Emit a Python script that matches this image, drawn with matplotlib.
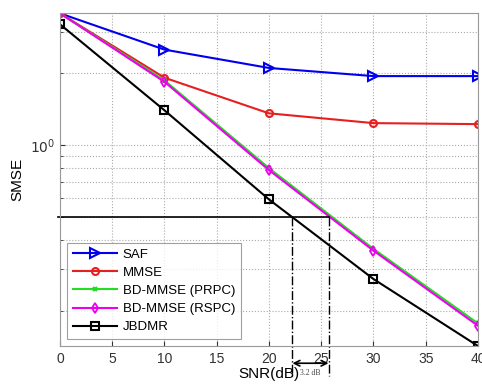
import matplotlib
matplotlib.use("Agg")
import matplotlib.pyplot as plt
import numpy as np

plt.rcParams['font.family'] = ['Liberation Sans', 'DejaVu Sans']

# data
snr = [0, 10, 20, 30, 40]
saf = [3.58, 2.52, 2.11, 1.95, 1.95]
mmse = [3.58, 1.92, 1.36, 1.237, 1.225]
bd_prpc = [3.58, 1.87, 0.80, 0.366, 0.178]
bd_rspc = [3.58, 1.845, 0.785, 0.36, 0.174]
jbdmr = [3.22, 1.40, 0.591, 0.2735, 0.143]

xticks = [0, 5, 10, 15, 20, 25, 30, 35, 40]
ref_level = 0.5
snr_jbdmr = 22.25
snr_bd = 25.7

fig = plt.figure(figsize=(4.82, 3.87), dpi=100)
ax = fig.add_axes([0.1245, 0.106, 0.867, 0.8595])

lw = 1.5
ax.semilogy(snr, saf, color='#0000ee', marker='>', mfc='none', ms=6.5, mew=1.5, lw=lw, label='SAF')
ax.semilogy(snr, mmse, color='#e62020', marker='o', mfc='none', ms=5, mew=1.5, lw=lw, label='MMSE')
ax.semilogy(snr, bd_prpc, color='#22dd22', marker='x', ms=3, mew=1.5, lw=lw, label='BD-MMSE (PRPC)')
ax.semilogy(snr, bd_rspc, color='#ee00ee', marker='d', mfc='none', ms=5.5, mew=1.3, lw=lw, label='BD-MMSE (RSPC)')
ax.semilogy(snr, jbdmr, color='black', marker='s', mfc='none', ms=5.5, mew=1.5, lw=lw, label='JBDMR')

ax.set_xlim(0, 40)
ax.set_ylim(min(jbdmr), max(saf))

# reference line and SNR gap markers
ax.plot([-0.2, snr_bd], [ref_level, ref_level], color='black', lw=1.2, clip_on=False)
for xv in [snr_jbdmr, snr_bd]:
    ax.plot([xv, xv], [ref_level, 0.107], color='black', lw=1, ls='-.', clip_on=False)
ax.annotate('', xy=(snr_jbdmr, 0.121), xytext=(snr_bd, 0.121), xycoords='data',
            arrowprops=dict(arrowstyle='<->', color='black', lw=1.2, shrinkA=0, shrinkB=0),
            annotation_clip=False)
ax.text((snr_jbdmr + snr_bd) / 2, 0.1105, '3.2 dB', fontsize=5.5, family='Liberation Serif',
        ha='center', va='center', color='#444444')

ax.set_xticks(xticks)
ax.set_yticks([1])
ax.set_yticklabels(['$10^0$'])
ax.yaxis.set_minor_formatter(matplotlib.ticker.NullFormatter())
ax.tick_params(which='both', direction='in', labelsize=10, colors='#333333')
ax.tick_params(axis='x', pad=4)
ax.grid(True, which='both', ls=':', color='#aaaaaa', lw=0.8)
for s in ax.spines.values():
    s.set_color('#999999')

ax.set_xlabel('SNR(dB)', fontsize=11, labelpad=1)
ax.set_ylabel('SMSE', fontsize=11)

leg = ax.legend(loc='lower left', fontsize=9.5, handlelength=3.4, handletextpad=0.4,
                borderpad=0.45, labelspacing=0.45, fancybox=False, borderaxespad=0.5)
leg.get_frame().set_edgecolor('#888888')
leg.get_frame().set_linewidth(0.8)

fig.savefig('out.png', dpi=100)
